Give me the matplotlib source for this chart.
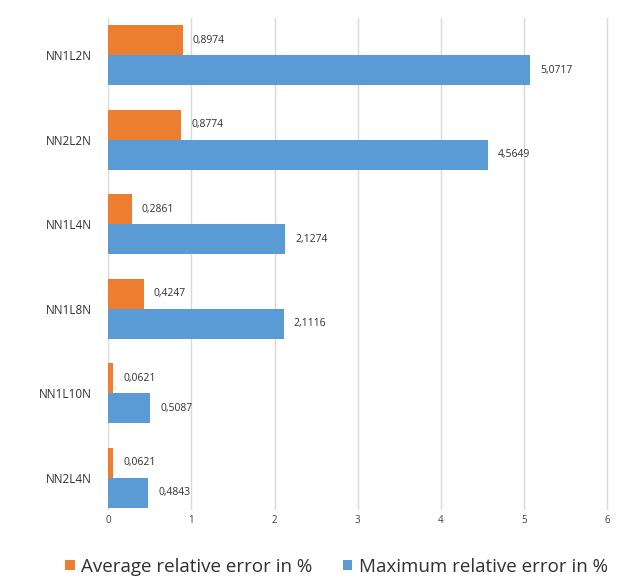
import matplotlib
matplotlib.use("Agg")
import matplotlib.pyplot as plt
import numpy as np

categories = ["NN1L2N", "NN2L2N", "NN1L4N", "NN1L8N", "NN1L10N", "NN2L4N"]
avg_err = [0.8974, 0.8774, 0.2861, 0.4247, 0.0621, 0.0621]
max_err = [5.0717, 4.5649, 2.1274, 2.1116, 0.5087, 0.4843]
avg_labels = ["0,8974", "0,8774", "0,2861", "0,4247", "0,0621", "0,0621"]
max_labels = ["5,0717", "4,5649", "2,1274", "2,1116", "0,5087", "0,4843"]
xticks = [0, 1, 2, 3, 4, 5, 6]

plt.rcParams['font.family'] = ['Open Sans', 'DejaVu Sans']

fig = plt.figure(figsize=(6.29, 5.82), dpi=100)
ax = fig.add_axes([0.172, 0.124, 0.80, 0.845])

orange = "#ED7D31"
blue = "#5B9BD5"
n = len(categories)
y = np.arange(n)
h = 0.355
ax.barh(y - h/2, avg_err, height=h, color=orange, label="Average relative error in %", zorder=3)
ax.barh(y + h/2, max_err, height=h, color=blue, label="Maximum relative error in %", zorder=3)

for i in range(n):
    ax.text(avg_err[i] + 0.12, y[i] - h/2, avg_labels[i], va="center", ha="left", fontsize=7.5, color="#303030")
    ax.text(max_err[i] + 0.12, y[i] + h/2, max_labels[i], va="center", ha="left", fontsize=7.5, color="#303030")

ax.set_ylim(5.38, -0.44)
ax.set_xlim(0, 6.05)
ax.set_yticks(y)
ax.set_yticklabels(categories, fontsize=8.5, color="#303030")
ax.set_xticks(xticks)
ax.set_xticklabels([str(t) for t in xticks], fontsize=7, color="#404040")
ax.tick_params(axis="both", length=0)
ax.tick_params(axis="y", pad=12)
ax.tick_params(axis="x", pad=4)
ax.grid(axis="x", color="#D9D9D9", linewidth=1, zorder=0)
for s in ax.spines.values():
    s.set_visible(False)

fig.legend(loc="lower center", bbox_to_anchor=(0.535, -0.018), ncol=2, frameon=False,
           fontsize=13.5, handlelength=0.5, handleheight=0.5, columnspacing=1.6, handletextpad=0.35,
           labelcolor="#303030")

fig.savefig("out.png", dpi=100)
